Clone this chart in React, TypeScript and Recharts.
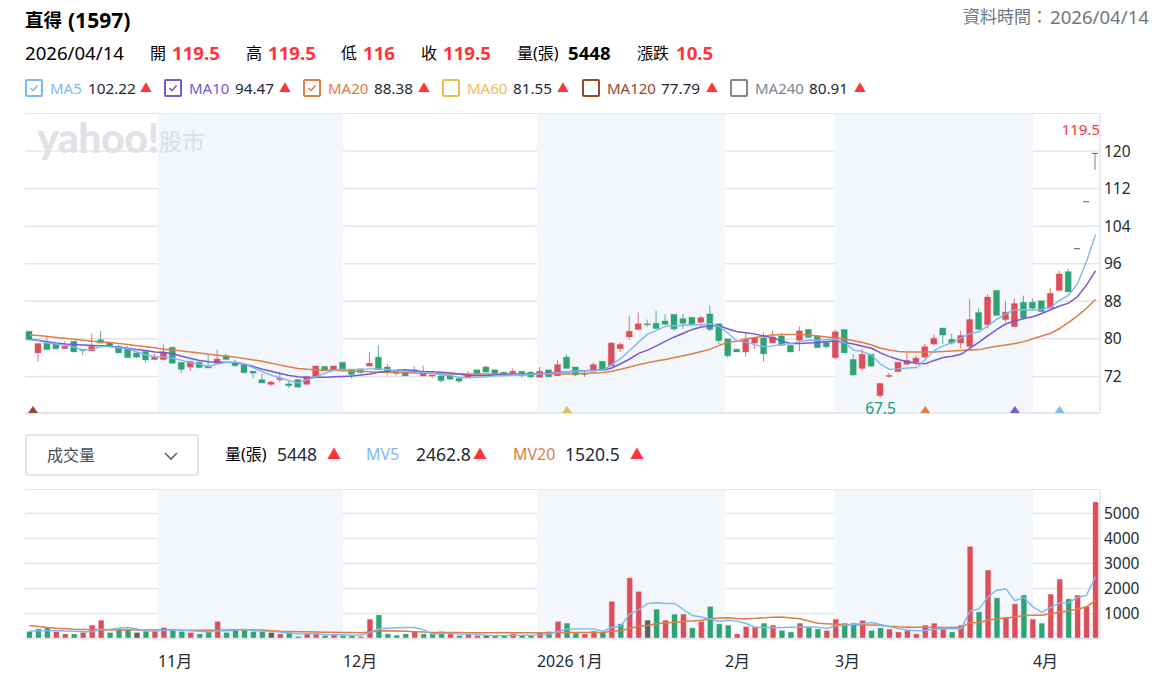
import React from 'react';
import {
  Bar,
  CartesianGrid,
  ComposedChart,
  Line,
  ReferenceArea,
  ReferenceDot,
  ReferenceLine,
  XAxis,
  YAxis,
} from 'recharts';

const opens = [81.6,77,79.1,79,77.9,79.5,77.8,77.4,79.8,79.1,78.4,77.9,77,77.3,75.6,75.6,78.2,75,74,75,74.2,74.8,76.4,75,74.4,73.1,71.3,70.3,71.3,70.4,71.3,70.3,72,74.1,73.3,75,73.3,73.6,74.2,76.1,74,73.3,72.9,73.4,72.1,72.1,72.1,72.1,71.6,71.7,73.4,74,73.4,72.9,72.3,73.1,72.9,71.8,73.4,72.1,76.1,74,72.5,73.1,75.2,74.2,77.9,80.4,82,83.2,83.3,83.8,85.2,84.3,84.6,83.5,85.3,83.2,80,77.8,77.2,79.1,80.2,79.1,80.6,78.6,79.7,82,80.6,79.2,76,82,75.6,73.7,76.7,67.9,72.1,73,74.6,75,76.1,78.9,82.3,79.9,79.1,78.4,85.6,83,90.3,84.1,82.6,87.8,87.8,88.1,86.5,90.3,94.3,99.2,109.2,119.5];
const highs = [81.7,79,80.7,79,79.5,79.5,77.8,81.1,81.7,79.3,78.8,78.4,77.1,77.3,76.8,78.8,78.3,75,75.2,75.2,76.7,77.7,76.8,75.5,74.4,73.1,72.6,71,72.8,71.1,71.4,72,74.3,74.2,74.2,75,73.3,73.6,77.2,78.6,74.7,73.3,72.9,74.2,74.3,72.3,72.1,72.1,71.6,73.1,73.4,74.3,73.4,72.9,73.7,73.1,73.1,74,73.4,75.5,76.7,74,73.1,75,75.2,79.3,79.3,84.9,85.6,84.1,86,85.2,85.3,85.3,84.6,84.9,87,83.2,80,77.8,81.3,80.3,81.4,81.7,81.2,78.6,82.6,82,80.6,79.2,82,82,76.7,77.9,76.7,70.5,72.7,75,77,76.5,78.9,80.9,82.3,81.1,81.7,88.5,86.5,89.5,90.3,88.1,88.6,89.2,88.6,88.1,90.8,94.5,95,99.2,109.2,119.5];
const lows = [79.7,75.2,77.7,77.7,77.9,77.2,76.5,77.4,79.1,78.4,77,76,75.9,75,75.6,75.6,74.8,72.7,73.1,73.7,73.8,74.8,75.6,74,72.6,71.6,70.6,70,70.7,69.5,69.7,70.3,72,73.2,73.3,73.4,71.6,72.6,74.2,73.4,72.2,72.2,72.1,72.8,72.1,71.6,70.6,71.4,70.6,71.7,72.6,72.9,72.6,71.9,72.3,71.7,71.6,71.8,71.9,72.1,73.7,72,71.9,73.1,73.5,74.2,77.2,79.8,82,82.5,82.2,83.1,81.7,82.1,83,82.6,81.6,78.9,75.9,77.2,76.2,77.8,75.1,79.1,78.6,77.2,77.4,80.3,78.1,78,75.6,77,72.1,73.2,74,67.5,71.7,73,74.3,74.4,75.8,78.6,78.9,78.8,78,78,81.9,82.2,85,83.6,82.6,84.1,86.2,85.8,86.5,90.3,90,99.2,109.2,116];
const closes = [79.8,79,77.7,77.9,78.4,77.2,77.5,78.4,79.1,78.4,77,76,76.1,75.5,76.1,77.2,74.8,73.5,75.2,73.9,73.8,75.7,75.6,74.3,72.8,72.7,70.6,70.8,71.6,70,69.7,72,74.2,73.2,74.2,73.4,72.4,72.8,74.8,73.4,72.8,72.6,72.1,72.8,72.7,72.3,71.1,71.4,71,72.4,72.6,72.9,72.6,72.2,73.1,72.2,71.9,73.1,71.9,74.5,73.7,72.3,72.5,74.5,73.5,79.1,78.8,81.6,83.2,83,82.2,83.1,82.1,83.3,83,84.5,82,79.6,76.4,77.2,79.9,80.3,76.8,80.4,78.6,77.2,81.7,80.3,78.1,78.3,81.5,77,72.3,76.7,74.2,70.5,72.2,75,75.4,75.9,78.3,80.1,80.8,79.1,80.7,84.1,82,88.9,85,85.7,87.5,84.4,86.5,85.8,89.7,93.8,90,99.2,109.2,119.5];

const ma5 = [79.8,79.6,79.1,78.9,78.6,78.2,77.6,77.7,78.4,78.3,78.1,77.9,77.2,76.6,76.2,76.1,75.9,75.4,74.9,74.6,74.1,74.6,75,75,74.7,73.8,73,72.2,71.7,71.1,70.6,71.3,71.9,72.7,73.3,73.5,73.5,73.5,73.6,73.6,73.4,73.2,73.1,72.9,72.8,72.7,72.3,72.2,71.8,71.7,71.8,71.9,72.1,72.2,72.3,72.3,72.4,72.5,72.6,72.8,73,73.1,73.2,73.3,73.3,74.5,75.8,77.5,79.3,81,81.8,82.7,82.8,82.9,83,83,83.2,82.6,81.2,79.5,79.3,78.7,78.3,78.5,78.8,79,79.4,79.7,79.7,79.8,79.9,79.2,77.6,77.3,76.5,74.6,73.5,73.6,73.8,73.9,75.6,77.5,78.5,79.2,80.2,81.1,81.5,82.8,84.2,85.3,86.2,86.2,86.1,86.3,86.7,88.2,89.3,91.8,96.5,102.22];
const ma10 = [79.9,79.7,79.4,79.1,78.9,78.8,78.7,78.6,78.5,78.4,78.2,78,77.7,77.5,77.2,77.1,76.8,76.3,75.8,75.4,75.1,75,75,74.9,74.6,74.1,73.5,73.1,72.6,72.2,71.9,71.7,71.8,71.8,71.9,72,72.1,72.3,72.5,72.9,73.1,73.3,73.4,73.2,73,73,72.9,72.7,72.5,72.2,72.2,72.2,72.3,72.4,72.4,72.4,72.4,72.5,72.7,72.9,73,73.1,73.2,73.3,73.3,73.8,74.7,75.7,76.9,77.6,78.5,79.5,80.4,81.2,82,82.5,82.8,82.8,82.1,81.5,81.3,81,80.6,80.2,79.5,79,79,79.1,79.2,79.4,79.6,79.2,78.9,78.4,78,77,76.2,75.6,75.1,74.8,74.7,75.4,76,76.3,76.7,78,79.3,80.7,82,83.2,83.8,84.3,84.7,85.4,86.2,87,87.6,89,91.5,94.47];
const ma20 = [80.8,80.7,80.5,80.3,80.1,79.9,79.7,79.5,79.3,79.2,79,78.8,78.5,78.3,78.1,77.8,77.6,77.4,77.2,77,76.7,76.5,76.3,76.1,75.8,75.5,75.2,74.8,74.4,74,73.7,73.5,73.4,73.3,73.3,73.2,73.1,73.1,73,72.9,72.9,72.8,72.8,72.7,72.7,72.6,72.5,72.5,72.5,72.5,72.5,72.5,72.5,72.5,72.5,72.5,72.5,72.5,72.5,72.5,72.5,72.6,72.6,72.7,72.8,73.1,73.5,74,74.5,74.9,75.3,75.6,76,76.4,76.8,77.3,77.8,78.6,79.3,79.5,80,80.3,80.6,80.8,80.9,80.9,80.9,80.8,80.6,80.4,80.2,80,79.6,79.2,78.7,78,77.6,77.3,77.2,77.2,77.2,77.2,77.3,77.4,77.5,77.6,77.7,78.1,78.4,78.7,79,79.4,80,80.6,81.2,82.2,83.5,84.9,86.5,88.38];

const volumes = [267,373,427,267,173,173,227,520,720,227,360,360,227,280,280,427,360,267,227,173,267,667,227,307,360,267,267,227,173,227,67,200,200,107,147,107,107,67,760,933,173,120,173,267,173,173,267,173,107,160,107,107,107,107,173,107,107,227,267,667,600,200,173,280,227,1467,573,2413,1867,720,1160,720,960,960,413,667,1267,573,520,173,467,467,600,520,307,253,600,440,373,307,760,600,600,707,307,413,360,253,307,173,520,600,360,253,520,3667,1053,2720,1613,840,1373,1720,760,600,1760,2360,1573,1720,1267,5448];
const volumeTones = 'gggrrgrrrgggkgrrggrggrgggggkrggrrgrggrrggggrgggrgrrkggrggrgrggrrgrgrrkgrgrgrgggrrrgrggrggrrggrggrrrrrrrgrrgrgrrgrgrrgrrr';
const mv5 = [300,305,315,320,300,290,270,270,360,370,410,440,380,295,300,315,335,325,305,290,260,310,310,330,370,320,295,285,260,215,185,190,175,165,145,150,135,130,235,390,410,430,440,440,345,180,200,205,175,175,165,130,115,115,125,130,130,145,170,290,370,385,385,385,290,440,500,975,1150,1400,1430,1400,1400,1160,920,860,780,680,730,693,600,440,440,430,440,450,460,460,455,400,505,530,560,600,640,560,470,400,335,310,320,370,400,390,390,1105,1185,1665,1930,1985,1510,1640,1265,1055,1240,1425,1430,1640,1735,2462.8];
const mv20 = [520,480,440,410,390,370,360,350,340,335,335,335,335,335,335,335,335,330,330,325,325,330,335,345,350,345,335,310,290,280,270,265,260,250,245,240,235,225,260,300,305,295,285,270,255,240,240,240,235,230,225,225,225,225,225,225,225,225,230,235,235,235,235,240,240,290,310,400,490,520,590,620,650,680,700,730,790,815,825,800,790,805,830,845,855,820,790,700,610,590,570,560,545,540,535,530,490,465,450,450,445,440,440,440,445,625,640,730,790,815,860,915,925,930,990,1050,1105,1170,1265,1520.5];

// month starts, in trading days counted from the left edge of the chart
const monthEdges = [14.72, 35.2, 56.67, 77.48, 89.66, 111.58];
const monthLabels = ['11月', '12月', '2026 1月', '2月', '3月', '4月'];
const shadedMonths = [[14.72, 35.2], [56.67, 77.48], [89.66, 111.58]];

const priceTicks = [72, 80, 88, 96, 104, 112, 120];
const volumeTicks = [1000, 2000, 3000, 4000, 5000];

const maNames = ['MA5', 'MA10', 'MA20', 'MA60', 'MA120', 'MA240'];
const maValues = ['102.22', '94.47', '88.38', '81.55', '77.79', '80.91'];
const maChecked = [true, true, true, false, false, false];
const turnDays = [0, 60, 100, 110, 115];

const FONT = '"Noto Sans", "Noto Sans CJK TC", sans-serif';
const RED = '#dc4e5a';
const GREEN = '#2ea373';
const GRAY = '#5f5f5f';
const UP_TEXT = '#ff333a';
const GRID = '#e3e5ea';
const BAND = '#f3f6fa';
const maColors = ['#7cb8f4', '#7557d8', '#e07c46', '#ecbd55', '#96482a', '#7d858f'];
const turnColors = ['#96482a', '#ecbd55', '#e07c46', '#7557d8', '#7cb8f4'];
const legendX = [25, 164, 303, 442, 582, 730];
const legendValueX = [88, 235, 374, 513, 661, 809];
const legendArrowX = [140, 279, 418, 557, 706, 854];

const candles = opens.map((open, i) => ({
  day: i,
  open,
  high: highs[i],
  low: lows[i],
  close: closes[i],
  range: [lows[i], highs[i]],
  ma5: ma5[i],
  ma10: ma10[i],
  ma20: ma20[i],
}));

const volumeRows = volumes.map((volume, i) => ({
  day: i,
  volume,
  tone: volumeTones[i],
  mv5: mv5[i],
  mv20: mv20[i],
}));

function Candle(props: any) {
  const { x, y, width, height, payload } = props;
  const { open, high, low, close } = payload;
  const color = close > open ? RED : close < open ? GREEN : GRAY;
  const mid = x + width / 2;
  if (high === low) {
    return <line x1={x} x2={x + width} y1={y} y2={y} stroke={color} strokeWidth={1} />;
  }
  const py = (v: number) => y + ((high - v) / (high - low)) * height;
  const top = py(Math.max(open, close));
  const bottom = py(Math.min(open, close));
  return (
    <g>
      <line x1={mid} x2={mid} y1={y} y2={y + height} stroke={color} strokeWidth={1} strokeOpacity={0.8} />
      {close === open ? (
        <line x1={x} x2={x + width} y1={top} y2={top} stroke={color} strokeWidth={1} />
      ) : (
        <rect
          x={x}
          y={top}
          width={width}
          height={Math.max(bottom - top, 1)}
          fill={color}
          stroke={color}
          strokeOpacity={0.35}
          strokeWidth={1}
        />
      )}
    </g>
  );
}

function VolumeBar(props: any) {
  const { x, y, width, height, payload } = props;
  const color = payload.tone === 'r' ? RED : payload.tone === 'g' ? GREEN : GRAY;
  return (
    <rect x={x} y={y} width={width} height={height} fill={color} stroke={color} strokeOpacity={0.35} strokeWidth={1} />
  );
}

function Turn({ cx, cy, color }: any) {
  const left = Math.max(cx, 33);
  return <path d={`M${left - 5} ${cy} L${left} ${cy - 7} L${left + 5} ${cy} Z`} fill={color} />;
}

function MonthTick({ x, y, payload }: any) {
  return (
    <text x={x} y={y + 20} textAnchor="start" fontSize={16} fontFamily={FONT} fill="#232a31">
      {monthLabels[monthEdges.indexOf(payload.value)]}
    </text>
  );
}

function At({ x, y, color, size = 16, bold, children }: any) {
  return (
    <span
      style={{
        position: 'absolute',
        left: x,
        top: y,
        color,
        fontSize: size,
        fontWeight: bold ? 700 : 400,
        lineHeight: '20px',
        whiteSpace: 'nowrap',
      }}
    >
      {children}
    </span>
  );
}

function Check({ x, color, on }: any) {
  return (
    <svg style={{ position: 'absolute', left: x, top: 79 }} width={18} height={18}>
      <rect x={1} y={1} width={16} height={16} rx={1} fill="#fff" stroke={color} strokeWidth={2} />
      {on && <path d="M5.5 9 L8 11.5 L12.5 6.5" fill="none" stroke={color} strokeWidth={1.6} />}
    </svg>
  );
}

const tickStyle = { fontSize: 15.5, fontFamily: FONT, fill: '#232a31' };
const HEAD = 18.6;

export default function App() {
  return (
    <div style={{ position: 'absolute', left: 0, top: 0, width: 1152, height: 688, background: '#fff', fontFamily: FONT, color: '#000' }}>
      <At x={25} y={10} size={18.5} bold>直得</At>
      <At x={68} y={10} size={21} bold>(1597)</At>
      <At x={963} y={7} size={17} color="#6e7780">資料時間：</At>
      <At x={1050} y={7} size={HEAD} color="#6e7780">2026/04/14</At>

      <At x={25} y={43} size={HEAD}>2026/04/14</At>
      <At x={150} y={43}>開</At>
      <At x={172} y={43} size={HEAD} color={UP_TEXT} bold>119.5</At>
      <At x={246} y={43}>高</At>
      <At x={268} y={43} size={HEAD} color={UP_TEXT} bold>119.5</At>
      <At x={341} y={43}>低</At>
      <At x={363} y={43} size={HEAD} color={UP_TEXT} bold>116</At>
      <At x={421} y={43}>收</At>
      <At x={443} y={43} size={HEAD} color={UP_TEXT} bold>119.5</At>
      <At x={517} y={43}>量(張)</At>
      <At x={568} y={43} size={HEAD} bold>5448</At>
      <At x={637} y={43}>漲跌</At>
      <At x={676} y={43} size={HEAD} color={UP_TEXT} bold>10.5</At>

      {maNames.map((name, i) => (
        <React.Fragment key={name}>
          <Check x={legendX[i]} color={maColors[i]} on={maChecked[i]} />
          <At x={legendX[i] + 25} y={78} size={15} color={maColors[i]}>{name}</At>
          <At x={legendValueX[i]} y={78} size={15.3} color="#232a31">{maValues[i]}</At>
          <At x={legendArrowX[i]} y={79} size={12} color={UP_TEXT}>▲</At>
        </React.Fragment>
      ))}

      <div style={{ position: 'absolute', left: 0, top: 113 }}>
        <ComposedChart
          width={1152}
          height={320}
          data={candles}
          barCategoryGap={0}
          margin={{ top: 0, right: 0, bottom: 20, left: 25 }}
        >
          <XAxis dataKey="day" hide height={0} />
          <XAxis xAxisId="months" type="number" scale="linear" domain={[0, 120]} hide height={0} />
          <YAxis
            orientation="right"
            width={52}
            domain={[64.2, 128.1]}
            ticks={priceTicks}
            interval={0}
            allowDataOverflow
            tickLine={false}
            tickSize={0}
            tickMargin={4}
            axisLine={{ stroke: GRID, strokeWidth: 1.5 }}
            tick={tickStyle}
          />
          {shadedMonths.map(([from, to]) => (
            <ReferenceArea key={from} xAxisId="months" x1={from} x2={to} fill={BAND} fillOpacity={1} stroke="none" ifOverflow="visible" />
          ))}
          <CartesianGrid vertical={false} stroke={GRID} strokeWidth={1.5} />
          <ReferenceLine y={128.1} stroke={GRID} strokeWidth={1.5} ifOverflow="visible" />
          <ReferenceLine y={64.2} stroke={GRID} strokeWidth={1.5} ifOverflow="visible" />
          <Bar dataKey="range" barSize={6} isAnimationActive={false} shape={<Candle />} />
          <Line dataKey="ma20" stroke={maColors[2]} strokeWidth={1.5} dot={false} isAnimationActive={false} />
          <Line dataKey="ma10" stroke={maColors[1]} strokeWidth={1.5} dot={false} isAnimationActive={false} />
          <Line dataKey="ma5" stroke={maColors[0]} strokeWidth={1.4} dot={false} isAnimationActive={false} />
          {turnDays.map((day, i) => (
            <ReferenceDot key={day} x={day} y={64.2} r={0} ifOverflow="visible" shape={(p: any) => <Turn {...p} color={turnColors[i]} />} />
          ))}
          <ReferenceDot
            x={95}
            y={67.5}
            r={0}
            shape={(p: any) => (
              <text x={p.cx} y={p.cy + 16} textAnchor="middle" fontSize={15.5} fontFamily={FONT} fill="#12a66e">67.5</text>
            )}
          />
          <ReferenceDot
            x={119}
            y={119.5}
            r={0}
            shape={(p: any) => (
              <text x={p.cx + 4.5} y={p.cy - 18} textAnchor="end" fontSize={15} fontFamily={FONT} fill={UP_TEXT}>119.5</text>
            )}
          />
        </ComposedChart>
      </div>

      <div style={{ position: 'absolute', left: 37, top: 116, color: '#e0e2e7', fontFamily: 'Lato, sans-serif', fontSize: 41, fontWeight: 900, letterSpacing: -0.5, lineHeight: '44px' }}>
        yahoo!
      </div>
      <div style={{ position: 'absolute', left: 159, top: 126, color: '#dcdfe4', fontSize: 23, lineHeight: '30px' }}>股市</div>

      <div
        style={{
          position: 'absolute',
          left: 25,
          top: 434,
          width: 170,
          height: 38,
          border: '2px solid #e0e3e8',
          borderRadius: 4,
        }}
      />
      <At x={47} y={445} color="#464e56">成交量</At>
      <svg style={{ position: 'absolute', left: 163, top: 450 }} width={16} height={12}>
        <path d="M2 3 L8 9 L14 3" fill="none" stroke="#5b636a" strokeWidth={1.6} />
      </svg>

      <At x={225} y={444}>量(張)</At>
      <At x={277} y={444} size={17.5} color="#232a31">5448</At>
      <At x={327} y={444} size={14} color={UP_TEXT}>▲</At>
      <At x={366} y={444} color={maColors[0]}>MV5</At>
      <At x={416} y={444} size={17.5} color="#232a31">2462.8</At>
      <At x={473} y={444} size={14} color={UP_TEXT}>▲</At>
      <At x={513} y={444} color={maColors[2]}>MV20</At>
      <At x={565} y={444} size={17.5} color="#232a31">1520.5</At>
      <At x={630} y={444} size={14} color={UP_TEXT}>▲</At>

      <div style={{ position: 'absolute', left: 0, top: 489 }}>
        <ComposedChart
          width={1152}
          height={199}
          data={volumeRows}
          barCategoryGap={0}
          margin={{ top: 0, right: 0, bottom: 0, left: 25 }}
        >
          <XAxis dataKey="day" hide height={0} />
          <XAxis
            xAxisId="months"
            type="number"
            scale="linear"
            domain={[0, 120]}
            ticks={monthEdges}
            interval={0}
            height={49.5}
            tickLine={false}
            axisLine={{ stroke: GRID, strokeWidth: 1.5 }}
            tick={<MonthTick />}
          />
          <YAxis
            orientation="right"
            width={52}
            domain={[0, 5975]}
            ticks={volumeTicks}
            interval={0}
            allowDataOverflow
            tickLine={false}
            tickSize={0}
            tickMargin={4}
            axisLine={{ stroke: GRID, strokeWidth: 1.5 }}
            tick={tickStyle}
          />
          {shadedMonths.map(([from, to]) => (
            <ReferenceArea key={from} xAxisId="months" x1={from} x2={to} fill={BAND} fillOpacity={1} stroke="none" ifOverflow="visible" />
          ))}
          <CartesianGrid vertical={false} stroke={GRID} strokeWidth={1.5} />
          <ReferenceLine y={5975} stroke={GRID} strokeWidth={1.5} ifOverflow="visible" />
          <Bar dataKey="volume" barSize={5} isAnimationActive={false} shape={<VolumeBar />} />
          <Line dataKey="mv20" stroke={maColors[2]} strokeWidth={1.5} dot={false} isAnimationActive={false} />
          <Line dataKey="mv5" stroke={maColors[0]} strokeWidth={1.4} dot={false} isAnimationActive={false} />
        </ComposedChart>
      </div>
    </div>
  );
}
